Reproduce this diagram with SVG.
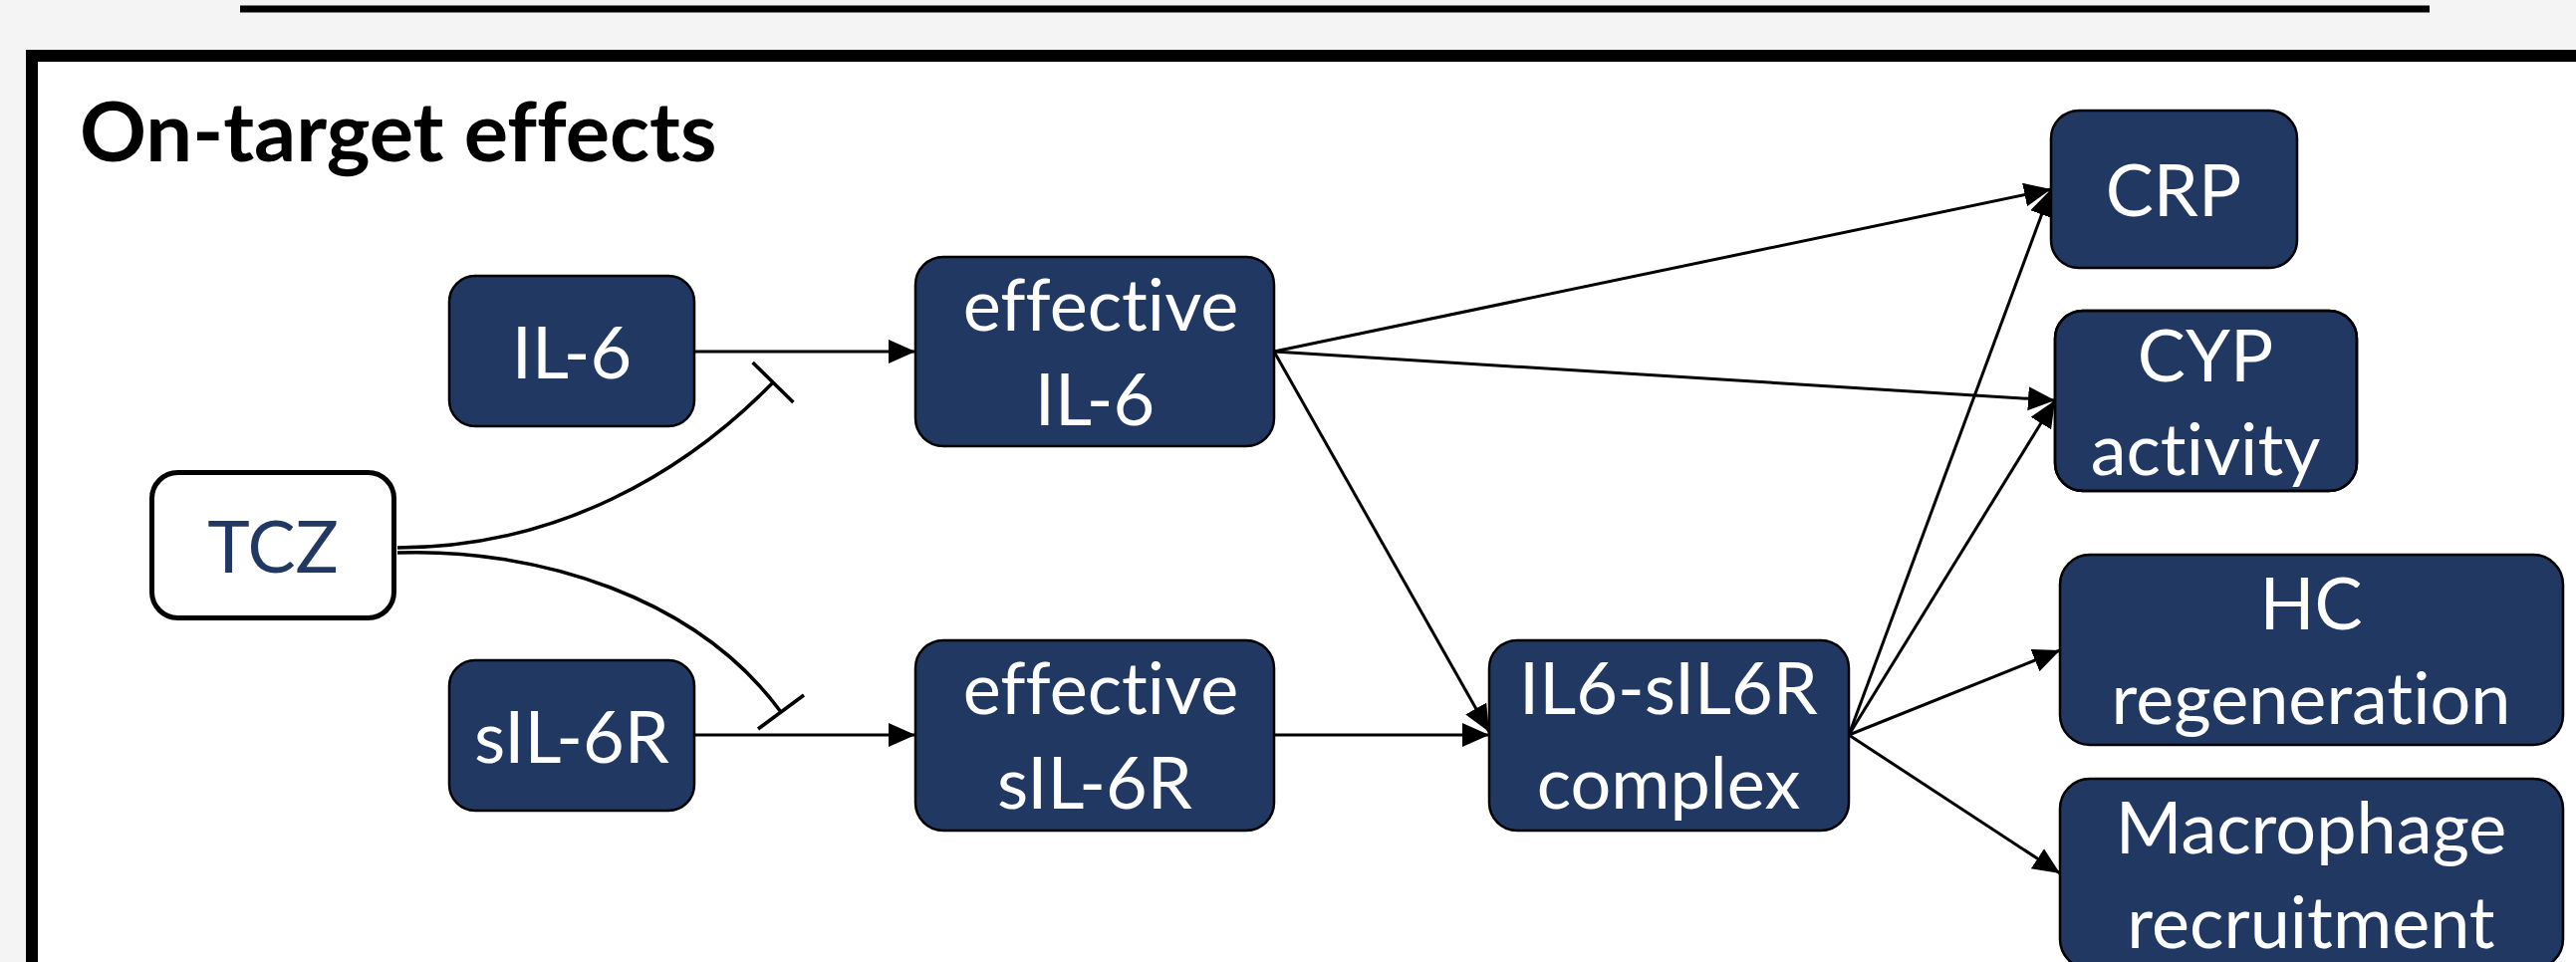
<svg xmlns="http://www.w3.org/2000/svg" width="2586" height="966" viewBox="0 0 2586 966">
  <style>
    text { font-variant-ligatures: none; font-feature-settings: "liga" 0, "clig" 0, "dlig" 0; }
    .box { fill: #213863; stroke: #000; stroke-width: 2.5; }
    .lbl { font-family: Lato, "Liberation Sans", sans-serif; font-size: 72px; fill: #ffffff; text-anchor: middle; }
    .tczlbl { font-family: Lato, "Liberation Sans", sans-serif; font-size: 72px; fill: #213863; text-anchor: middle; }
    .title { font-family: Lato, "Liberation Sans", sans-serif; font-size: 83px; font-weight: bold; fill: #000; }
    .edge { fill: none; stroke: #000; stroke-width: 3; marker-end: url(#arrow); }
    .inhib { fill: none; stroke: #000; stroke-width: 3.5; }
    .bar { stroke: #000; stroke-width: 3.5; }
  </style>
  <defs>
    <marker id="arrow" markerUnits="userSpaceOnUse" markerWidth="28" markerHeight="26" refX="27" refY="12" orient="auto">
      <path d="M0,0 L27,12 L0,24 Z" fill="#000"/>
    </marker>
    <clipPath id="cypClip">
      <rect x="2063" y="312" width="303" height="181" rx="28"/>
    </clipPath>
  </defs>

  <rect x="0" y="0" width="2586" height="966" fill="#f4f4f4"/>
  <line x1="241" y1="9" x2="2439" y2="9" stroke="#000" stroke-width="7"/>
  <rect x="32" y="56" width="2600" height="1000" fill="#ffffff" stroke="#000" stroke-width="12"/>

  <text class="title" x="80" y="162">On-target effects</text>

  <g id="connectors">
    <line class="edge" x1="697" y1="353" x2="919" y2="353"/>
    <line class="edge" x1="697" y1="738" x2="919" y2="738"/>
    <line class="edge" x1="1279" y1="353" x2="2059" y2="190"/>
    <line class="edge" x1="1279" y1="353" x2="2063" y2="402"/>
    <line class="edge" x1="1279" y1="353" x2="1495" y2="735"/>
    <line class="edge" x1="1279" y1="738" x2="1495" y2="738"/>
    <line class="edge" x1="1856" y1="738" x2="2059" y2="190"/>
    <line class="edge" x1="1856" y1="738" x2="2063" y2="402"/>
    <line class="edge" x1="1856" y1="738" x2="2068" y2="653"/>
    <line class="edge" x1="1856" y1="738" x2="2068" y2="877"/>
    <path class="inhib" d="M399,550 C560,550 688,474 776,384"/>
    <line class="bar" x1="755.6" y1="364" x2="796.4" y2="404"/>
    <path class="inhib" d="M399,555 C540,550 700,600 784,715"/>
    <line class="bar" x1="761" y1="732" x2="807" y2="698"/>
  </g>

  <g id="node-tcz">
    <rect x="152.5" y="474.5" width="243" height="146" rx="26" fill="#ffffff" stroke="#000" stroke-width="5"/>
    <text class="tczlbl" x="274" y="575">TCZ</text>
  </g>
  <g id="node-il6">
    <rect class="box" x="451" y="277" width="246" height="151" rx="26"/>
    <text class="lbl" x="574" y="380">IL-6</text>
  </g>
  <g id="node-sil6r">
    <rect class="box" x="451" y="663" width="246" height="151" rx="26"/>
    <text class="lbl" x="574" y="766">sIL-6R</text>
  </g>
  <g id="node-eff-il6">
    <rect class="box" x="919" y="258" width="360" height="190" rx="28"/>
    <text class="lbl" x="1105" y="332">effective</text>
    <text class="lbl" x="1099" y="427">IL-6</text>
  </g>
  <g id="node-eff-sil6r">
    <rect class="box" x="919" y="643" width="360" height="191" rx="28"/>
    <text class="lbl" x="1105" y="717">effective</text>
    <text class="lbl" x="1099" y="812">sIL-6R</text>
  </g>
  <g id="node-complex">
    <rect class="box" x="1495" y="643" width="361" height="191" rx="28"/>
    <text class="lbl" x="1675" y="717">IL6-sIL6R</text>
    <text class="lbl" x="1675" y="812">complex</text>
  </g>
  <g id="node-crp">
    <rect class="box" x="2059" y="111" width="247" height="158" rx="28"/>
    <text class="lbl" x="2182" y="217">CRP</text>
  </g>
  <g id="node-cyp">
    <rect class="box" x="2063" y="312" width="303" height="181" rx="28"/>
    <g clip-path="url(#cypClip)">
      <text class="lbl" x="2214" y="383">CYP</text>
      <text class="lbl" x="2214" y="477">activity</text>
    </g>
    <rect x="2063" y="312" width="303" height="181" rx="28" fill="none" stroke="#000" stroke-width="2.5"/>
  </g>
  <g id="node-hc">
    <rect class="box" x="2068" y="557" width="505" height="191" rx="30"/>
    <text class="lbl" x="2320" y="632">HC</text>
    <text class="lbl" x="2320" y="727">regeneration</text>
  </g>
  <g id="node-macro">
    <rect class="box" x="2068" y="782" width="505" height="191" rx="30"/>
    <text class="lbl" x="2320" y="857">Macrophage</text>
    <text class="lbl" x="2320" y="952">recruitment</text>
  </g>
</svg>
